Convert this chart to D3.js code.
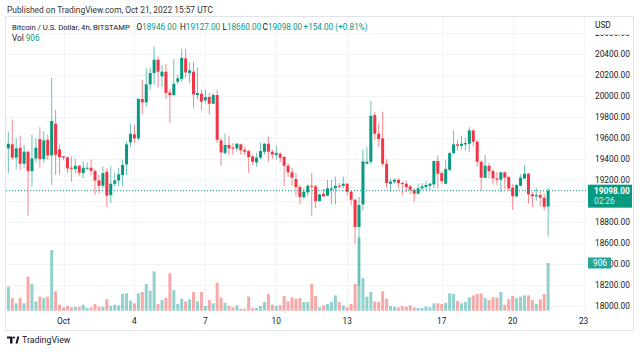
<!DOCTYPE html>
<html><head><meta charset="utf-8">
<script src="https://cdn.jsdelivr.net/npm/d3@7"></script>
<style>body{margin:0;background:#fff;} svg{display:block;font-family:Roboto,"Noto Sans",sans-serif;}</style>
</head><body><svg id="c" width="640" height="352"></svg>
<script>
// ---- data (BTC/USD, 4h, Bitstamp) ----
const startTime = Date.UTC(2022, 8, 28, 16); // first candle open time
const opens = [19502,19540,19413,19508,19355,19470,19285,19406,19591,19400,19584,19435,19737,19492,19425,19416,19317,19304,19336,19266,19311,19317,19285,19196,19145,19279,19056,19164,19196,19247,19349,19559,19635,19597,19973,19941,20113,20221,20348,20189,20234,20036,20011,20138,20164,20361,20221,20234,20011,20024,19960,19992,19928,20011,19578,19457,19534,19508,19502,19540,19489,19476,19425,19368,19413,19470,19546,19470,19438,19451,19419,19336,19273,19209,19133,19037,19082,19145,19139,18999,19069,19050,19107,19120,19145,19145,19164,19088,19012,18751,18967,19355,19374,19820,19642,19597,19355,19164,19184,19203,19171,19164,19139,19107,19069,19120,19133,19145,19158,19381,19266,19164,19298,19457,19540,19527,19540,19546,19673,19565,19374,19222,19336,19285,19215,19203,19273,19228,19126,19044,19145,19215,19260,19063,19044,19056,19031,18946];
const highs = [19661,19775,19600,19623,19534,19476,19632,19597,19705,19667,19635,20173,19868,19540,19432,19425,19425,19403,19343,19378,19368,19394,19304,19250,19330,19311,19330,19266,19317,19394,19568,19731,19724,19985,20157,20265,20272,20475,20380,20297,20310,20068,20354,20208,20450,20450,20323,20329,20272,20062,20062,20030,20030,20062,19603,19642,19623,19553,19553,19546,19521,19489,19441,19457,19559,19553,19616,19489,19527,19464,19432,19362,19314,19266,19152,19120,19158,19266,19152,19069,19114,19203,19203,19234,19171,19234,19171,19101,19018,19040,19492,19514,19954,19852,19744,19852,19400,19215,19215,19215,19184,19190,19152,19120,19164,19171,19190,19177,19387,19432,19285,19394,19470,19673,19584,19623,19603,19705,19686,19584,19387,19438,19362,19304,19279,19279,19279,19241,19158,19164,19254,19343,19266,19088,19126,19088,19069,19127];
const lows = [19266,19394,19304,19292,19311,18859,19139,19368,19320,19362,19394,19155,19250,19250,19387,19266,19184,19266,19234,19218,19292,19247,19056,19075,19120,18942,18980,19139,19139,19139,19247,19514,19553,19578,19826,19903,20062,20109,20081,20087,19973,19744,19998,20113,20138,20176,20125,19884,19966,19864,19934,19826,19928,19553,19336,19441,19438,19441,19470,19441,19438,19266,19336,19330,19400,19441,19374,19400,19394,19368,19139,19228,19145,19044,18967,19018,19044,18859,18929,18993,19037,19044,18967,18967,19126,19120,19050,18961,18592,18190,18910,19349,19349,19578,19514,19330,19120,19088,19164,19120,19056,19082,19063,18993,19063,19101,19101,19101,19120,19120,19164,19164,19285,19451,19483,19489,19483,19470,19521,19324,19101,19215,19215,19164,19152,19082,19114,19094,18916,19031,19139,19203,18974,18942,19005,18948,18910,18660];
const closes = [19546,19413,19502,19355,19470,19285,19406,19508,19400,19578,19435,19763,19441,19419,19413,19311,19311,19336,19269,19317,19317,19288,19196,19145,19266,19050,19164,19196,19254,19343,19540,19642,19597,19973,19941,20113,20221,20348,20234,20234,20030,20011,20119,20170,20367,20227,20246,20017,20030,19947,19992,19928,20011,19584,19464,19534,19502,19502,19546,19483,19470,19419,19374,19413,19476,19546,19470,19444,19457,19413,19336,19273,19222,19133,19037,19088,19145,19139,18999,19063,19044,19120,19120,19145,19139,19164,19088,19012,18751,18961,19378,19374,19813,19642,19591,19355,19171,19184,19203,19171,19164,19133,19107,19069,19120,19139,19152,19164,19381,19260,19190,19304,19457,19540,19527,19546,19553,19673,19565,19374,19222,19336,19285,19215,19203,19273,19222,19120,19044,19152,19222,19260,19063,19044,19056,19031,18944,19098];
const volumes = [456,241,140,241,140,646,507,178,266,241,266,1153,368,114,63,89,63,76,76,114,51,63,127,76,76,217,89,114,101,317,329,190,139,329,355,507,380,748,127,203,241,710,393,127,228,177,217,355,177,355,89,203,139,532,253,152,89,63,101,38,38,266,51,51,89,165,317,114,89,101,279,177,253,228,241,165,165,507,279,63,101,127,165,291,165,101,63,127,507,1394,621,266,355,177,165,368,228,89,76,63,89,76,101,63,51,51,76,63,139,139,127,152,329,317,185,139,165,253,291,317,329,241,203,253,253,355,114,217,279,241,266,291,291,203,127,217,317,906];
const priceTicks = [18000,18200,18400,18600,18800,19000,19200,19400,19600,19800,20000,20200,20400,20600];
const dayTicks = [1,4,7,10,13,17,20,23];
const dayTickLabels = ["Oct","4","7","10","13","17","20","23"];
const lastPrice = 19098, lastVolume = 906;

// ---- layout ----
const svg = d3.select("#c");
const paneL = 6, paneR = 587, paneT = 17, paneB = 311;
const UP = "#089981", DN = "#f23645";
const x = d3.scaleUtc().domain([new Date(Date.UTC(2022,9,1)), new Date(Date.UTC(2022,9,23))]).range([63.5, 583.6]);
const y = d3.scaleLinear().domain([18000, 20400]).range([305.7, 54.3]);
const yv = d3.scaleLinear().domain([0, lastVolume]).range([310.7, 263]);
const data = opens.map((o,i)=>({t:new Date(startTime + i*4*3600e3), o, h:highs[i], l:lows[i], c:closes[i], v:volumes[i]}));

svg.append("clipPath").attr("id","paneclip").append("rect").attr("x",paneL).attr("y",paneT).attr("width",paneR-paneL).attr("height",paneB-paneT);

// frame
svg.append("rect").attr("x",5.5).attr("y",16.5).attr("width",628).attr("height",314).attr("fill","none").attr("stroke","#e0e3eb");

// grid
const g = svg.append("g");
g.selectAll(".hg").data(priceTicks).join("line").attr("x1",paneL).attr("x2",paneR)
 .attr("y1",d=>Math.round(y(d))+0.5).attr("y2",d=>Math.round(y(d))+0.5).attr("stroke","#f0f3fa").attr("clip-path","url(#paneclip)");
g.selectAll(".vg").data(dayTicks).join("line").attr("y1",paneT).attr("y2",paneB)
 .attr("x1",d=>Math.round(x(new Date(Date.UTC(2022,9,d))))+0.5).attr("x2",d=>Math.round(x(new Date(Date.UTC(2022,9,d))))+0.5).attr("stroke","#f0f3fa");

const pane = svg.append("g").attr("clip-path","url(#paneclip)");

// volume
const bw = 3;
pane.selectAll(".vol").data(data).join("rect")
 .attr("x",d=>x(d.t)-bw/2).attr("width",bw)
 .attr("y",d=>yv(d.v)).attr("height",d=>yv(0)-yv(d.v))
 .attr("fill",d=>d.c>=d.o?"#26a69a":"#ef5350").attr("fill-opacity",0.5);

// candles
pane.selectAll(".wick").data(data).join("line")
 .attr("x1",d=>x(d.t)).attr("x2",d=>x(d.t)).attr("y1",d=>y(d.h)).attr("y2",d=>y(d.l))
 .attr("stroke",d=>d.c>=d.o?UP:DN).attr("stroke-width",1).attr("stroke-opacity",0.6);
pane.selectAll(".body").data(data).join("rect")
 .attr("x",d=>x(d.t)-bw/2).attr("width",bw)
 .attr("y",d=>y(Math.max(d.o,d.c))).attr("height",d=>Math.max(1,Math.abs(y(d.o)-y(d.c))))
 .attr("fill",d=>d.c>=d.o?UP:DN);

// last price dotted line
svg.append("line").attr("x1",paneL).attr("x2",paneR).attr("y1",y(lastPrice)).attr("y2",y(lastPrice))
 .attr("stroke",UP).attr("stroke-dasharray","1,2");

// price scale labels (labels fully under the last-price box are not drawn)
const ly = y(lastPrice);
svg.append("clipPath").attr("id","scaleclip").append("rect").attr("x",587).attr("y",34.5).attr("width",46).attr("height",280);
const ps = svg.append("g").attr("clip-path","url(#scaleclip)");
ps.selectAll("text").data(priceTicks.filter(d=>Math.abs(y(d)-(ly+5.5))>11)).join("text").attr("x",595).attr("y",d=>y(d)).attr("dy","0.35em")
 .attr("font-size",8.3).attr("fill","#131722").text(d=>d3.format(".2f")(d));
svg.append("text").attr("x",595).attr("y",25.5).attr("dy","0.35em").attr("font-size",8.3).attr("fill","#131722").text("USD");

// last price label
svg.append("rect").attr("x",588).attr("y",ly-6).attr("width",44).attr("height",23).attr("fill",UP);
svg.append("text").attr("x",594).attr("y",ly).attr("dy","0.35em").attr("font-size",8.3).attr("font-weight","bold").attr("fill","#fff").text(d3.format(".2f")(lastPrice));
svg.append("text").attr("x",594).attr("y",ly+10).attr("dy","0.35em").attr("font-size",8.3).attr("fill","#fff").attr("fill-opacity",0.85).text("02:26");
// volume label
const vy = yv(lastVolume);
svg.append("rect").attr("x",588).attr("y",vy-5.5).attr("width",23).attr("height",11).attr("fill","#26a69a");
svg.append("text").attr("x",593).attr("y",vy).attr("dy","0.35em").attr("font-size",8.3).attr("fill","#fff").text(String(lastVolume));

// time axis labels
svg.selectAll(".tl").data(dayTicks).join("text").attr("text-anchor","middle")
 .attr("x",d=>x(new Date(Date.UTC(2022,9,d)))).attr("y",321).attr("dy","0.35em")
 .attr("font-size",8.3).attr("fill","#131722").text((d,i)=>dayTickLabels[i]);

// header
svg.append("text").attr("x",7).attr("y",10).attr("dy","0.35em").attr("font-size",8.4).attr("fill","#333").text("Published on TradingView.com, Oct 21, 2022 15:57 UTC");
svg.append("text").attr("x",12).attr("y",27).attr("dy","0.35em").attr("font-size",7.7).attr("fill","#131722").text("Bitcoin / U.S. Dollar, 4h, BITSTAMP");
const n = opens.length-1;
const ohlc = [["O",opens[n],136.5],["H",highs[n],180],["L",lows[n],222.5],["C",closes[n],262.5]];
ohlc.forEach(([k,v,px])=>{
  const t = svg.append("text").attr("x",px).attr("y",27).attr("dy","0.35em").attr("font-size",8.2);
  t.append("tspan").attr("fill","#131722").text(k);
  t.append("tspan").attr("fill",UP).text(d3.format(".2f")(v));
});
const chg = closes[n]-closes[n-1];
svg.append("text").attr("x",303.5).attr("y",27).attr("dy","0.35em").attr("font-size",8.2).attr("fill",UP)
 .text("+"+d3.format(".2f")(chg)+" (+"+d3.format(".2f")(chg/closes[n-1]*100)+"%)");
const vt = svg.append("text").attr("x",12).attr("y",38.5).attr("dy","0.35em").attr("font-size",8.2);
vt.append("tspan").attr("fill","#131722").text("Vol ");
vt.append("tspan").attr("fill",UP).text(String(lastVolume));

// logo
const lg = svg.append("g").attr("fill","#131722");
lg.append("path").attr("d","M7,336.5 H12.5 V343.5 H10 V338.5 H7 Z");
lg.append("circle").attr("cx",14).attr("cy",337.6).attr("r",1.1);
lg.append("path").attr("d","M15.5,343.5 L17.3,336.5 H19.3 L17.6,343.5 Z");
svg.append("text").attr("x",22).attr("y",340).attr("dy","0.35em").attr("font-size",8.8).attr("fill","#131722").text("TradingView");
</script></body></html>
